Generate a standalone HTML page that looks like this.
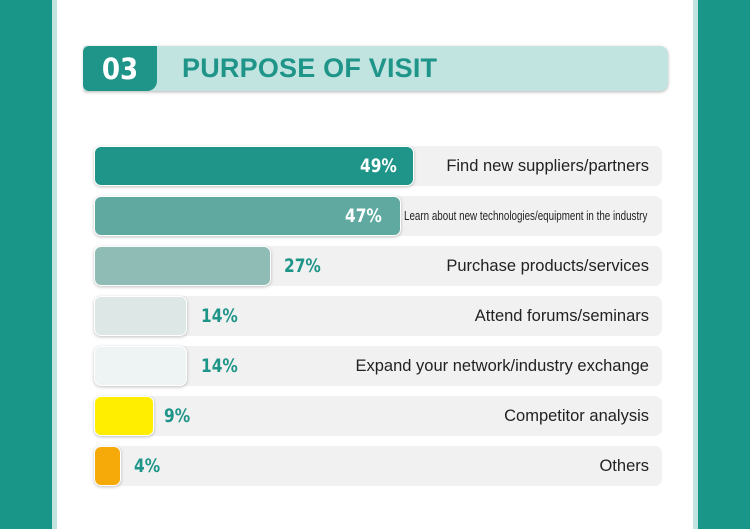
<!DOCTYPE html>
<html><head><style>
body{margin:0;width:750px;height:529px;overflow:hidden;background:#fff;font-family:"Liberation Sans",sans-serif;position:relative}
.a{position:absolute}
.row{position:absolute;left:94px;width:568px;height:40px;background:#f1f1f1;border-radius:7px}
.bar{position:absolute;left:94px;height:40px;border-radius:7px;box-shadow:0 1px 3px rgba(0,0,0,.25);border:1.5px solid #fff;box-sizing:border-box}
.pct{position:absolute;font-family:"DejaVu Sans Condensed","DejaVu Sans",sans-serif;font-weight:bold;font-size:19px;line-height:40px;color:#1f9589;transform:scaleX(0.9);transform-origin:left center}
.lab{position:absolute;right:101px;font-size:16.5px;line-height:40px;color:#222;white-space:nowrap}
</style></head><body>
<div class="a" style="left:0;top:0;width:52px;height:529px;background:#1a9688"></div>
<div class="a" style="left:52px;top:0;width:5px;height:529px;background:#c3e3e0"></div>
<div class="a" style="left:693px;top:0;width:5px;height:529px;background:#c3e3e0"></div>
<div class="a" style="left:698px;top:0;width:52px;height:529px;background:#1a9688"></div>

<div class="a" style="left:84px;top:46px;width:584px;height:45px;background:#c1e4e1;border-radius:0 8px 8px 0;box-shadow:0 1px 3px rgba(0,0,0,.3)"></div>
<div class="a" style="left:83px;top:46px;width:74px;height:45px;background:#1f9589;border-radius:6px 0 10px 6px"></div>
<div class="a" style="left:83px;top:46px;width:74px;height:45px;line-height:46px;text-align:center;color:#fff;font-family:'DejaVu Sans Condensed',sans-serif;font-weight:bold;font-size:29px">03</div>
<div class="a" style="left:182px;top:46px;line-height:45px;color:#1f9589;font-weight:bold;font-size:27px;letter-spacing:0.2px">PURPOSE OF VISIT</div>

<div class="row" style="top:146px"></div>
<div class="bar" style="top:146px;width:320px;background:#1f9589"></div>
<div class="pct" style="top:146px;left:360px;color:#fff">49%</div>
<div class="lab" style="top:146px">Find new suppliers/partners</div>

<div class="row" style="top:196px"></div>
<div class="bar" style="top:196px;width:307px;background:#5fa9a0"></div>
<div class="pct" style="top:196px;left:345px;color:#fff">47%</div>
<div class="a" style="top:196px;left:404px;line-height:40px;font-size:13px;color:#222;white-space:nowrap;transform:scaleX(0.755);transform-origin:left center">Learn about new technologies/equipment in the industry</div>

<div class="row" style="top:246px"></div>
<div class="bar" style="top:246px;width:177px;background:#8fbcb5"></div>
<div class="pct" style="top:246px;left:284px">27%</div>
<div class="lab" style="top:246px">Purchase products/services</div>

<div class="row" style="top:296px"></div>
<div class="bar" style="top:296px;width:93px;background:#dde8e6"></div>
<div class="pct" style="top:296px;left:201px">14%</div>
<div class="lab" style="top:296px">Attend forums/seminars</div>

<div class="row" style="top:346px"></div>
<div class="bar" style="top:346px;width:93px;background:#eef3f3"></div>
<div class="pct" style="top:346px;left:201px">14%</div>
<div class="lab" style="top:346px">Expand your network/industry exchange</div>

<div class="row" style="top:396px"></div>
<div class="bar" style="top:396px;width:60px;background:#ffee00"></div>
<div class="pct" style="top:396px;left:164px">9%</div>
<div class="lab" style="top:396px">Competitor analysis</div>

<div class="row" style="top:446px"></div>
<div class="bar" style="top:446px;width:27px;background:#f5aa0a"></div>
<div class="pct" style="top:446px;left:134px">4%</div>
<div class="lab" style="top:446px">Others</div>
</body></html>
